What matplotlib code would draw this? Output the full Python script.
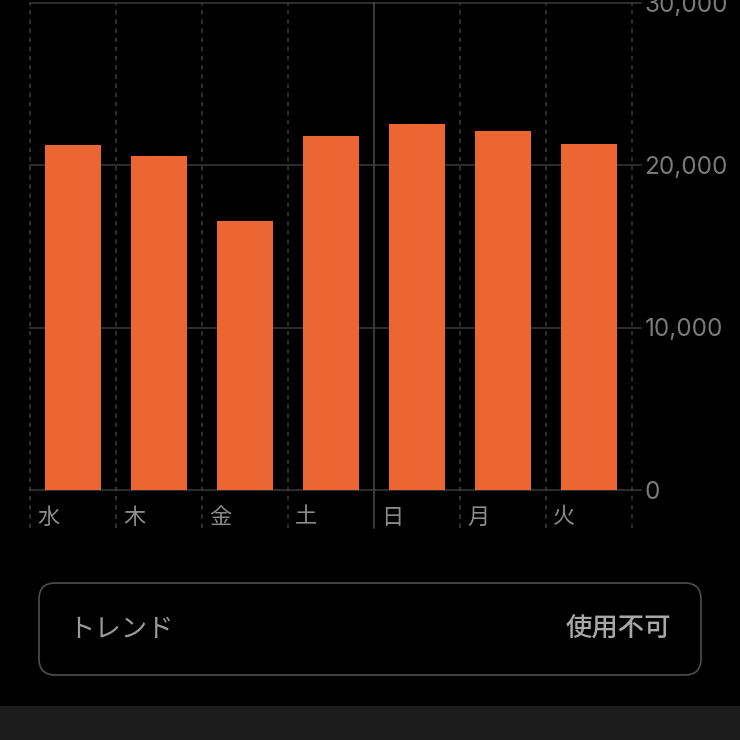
import matplotlib
matplotlib.use("Agg")
import matplotlib.pyplot as plt
from matplotlib.patches import FancyBboxPatch, Rectangle
from matplotlib.ticker import FuncFormatter

# weekday steps (thousands)
days = ["水", "木", "金", "土", "日", "月", "火"]
steps = [21250, 20540, 16540, 21770, 22500, 22110, 21270]
y_ticks = [0, 10000, 20000, 30000]
trend_label = "トレンド"
trend_value = "使用不可"

plt.rcParams['font.family'] = ['Inter', 'Noto Sans CJK JP', 'DejaVu Sans']

W = 740
fig = plt.figure(figsize=(7.4, 7.4), dpi=100, facecolor="black")
ax = fig.add_axes([30 / W, 250 / W, 602 / W, 487.5 / W])
ax.set_facecolor("black")

xs = [i + 0.5 for i in range(len(days))]
ax.bar(xs, steps, width=0.64, color="#EC6633", zorder=3)

ax.set_xlim(0, len(days))
ax.set_ylim(0, 30000)
for s in ax.spines.values():
    s.set_visible(False)

# horizontal grid, reaching a little past the plot on the right
for v in y_ticks:
    ax.axhline(v, xmin=0, xmax=1 + 9 / 602, color="#363636", lw=1.2,
               clip_on=False, zorder=1)

# day separators, dashed except before Sunday
below = -38 / 487.5
for i in range(len(days) + 1):
    ls = "-" if i == 4 else (0, (3, 3))
    col = "#4a4a4a" if i == 4 else "#3c3c3c"
    ax.axvline(i, ymin=below, ymax=1, color=col, lw=1.1, ls=ls,
               clip_on=False, zorder=2)

ax.set_xticks([])
ax.yaxis.tick_right()
ax.set_yticks(y_ticks)
ax.yaxis.set_major_formatter(FuncFormatter(lambda v, p: f"{int(v):,}"))
ax.tick_params(axis="y", length=0, pad=9, labelsize=17.5, labelcolor="#7a7a7a")

for i, d in enumerate(days):
    ax.text(i + 0.08, -27 / 487.5, d, transform=ax.get_xaxis_transform(),
            ha="left", va="center", fontsize=16, color="#8c8c8c",
            family=['Noto Sans CJK JP'])

# trend box
box = FancyBboxPatch((39 / W, 65 / W), 662 / W, 92 / W,
                     boxstyle="round,pad=0,rounding_size=0.022",
                     transform=fig.transFigure, facecolor="black",
                     edgecolor="#4e4e4e", lw=1.2)
fig.patches.append(box)
fig.text(68 / W, 111 / W, trend_label, ha="left", va="center",
         fontsize=19, color="#9a9a9a", family=['Noto Sans CJK JP'])
fig.text(671 / W, 111 / W, trend_value, ha="right", va="center",
         fontsize=19, color="#a8a8a8", fontweight="medium",
         family=['Noto Sans CJK JP'])

fig.patches.append(Rectangle((0, 0), 1, 34 / W, transform=fig.transFigure,
                             facecolor="#1c1c1c", edgecolor="none"))

fig.savefig("out.png", dpi=100, facecolor="black")
